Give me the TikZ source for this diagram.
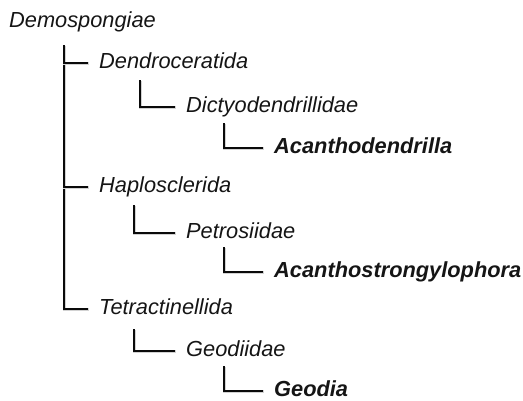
\documentclass[tikz,border=0pt]{standalone}
\usepackage{fontspec}
\setmainfont{Liberation Sans}
\usetikzlibrary{positioning,calc}
\definecolor{cText}{HTML}{151515}
\definecolor{cLine}{HTML}{0A0A0A}
\definecolor{cShade}{HTML}{D2D2D2}
\tikzset{
  taxon/.style={anchor=west, inner sep=0pt, text height=16pt, text depth=4.5pt,
    text=cText, font=\fontsize{21.8}{26}\selectfont\itshape},
  genus/.style={taxon, font=\fontsize{21.8}{26}\selectfont\bfseries\itshape},
  branch/.style={draw=cLine, line width=2.7pt, shorten >=11pt,
    preaction={draw=cShade, line width=2.9pt, transform canvas={shift={(0.6pt,-0.9pt)}}}},
}
\begin{document}
\begin{tikzpicture}[x=1pt, y=-1pt]
    \useasboundingbox (0,0) rectangle (523,400);
    \node[taxon] (demo)    at (9,22)   {Demospongiae};
    \node[taxon] (dendro)  at (99,63)  {Dendroceratida};
    \node[taxon] (dictyo)  at (186,107) {Dictyodendrillidae};
    \node[genus] (acantho) at (274,148) {Acanthodendrilla};
    \node[taxon] (haplo)   at (99,187) {Haplosclerida};
    \node[taxon] (petro)   at (186,233) {Petrosiidae};
    \node[genus] (acanstr) at (274,272) {Acanthostrongylophora};
    \node[taxon] (tetra)   at (99,309) {Tetractinellida};
    \node[taxon] (geodi)   at (186,351) {Geodiidae};
    \node[genus] (geodia)  at (274,391) {Geodia};
    \draw[branch] ([xshift=55pt,yshift=-13pt]demo.south west) |- (tetra.west);
    \draw[branch] ([xshift=55pt,yshift=-13pt]demo.south west) |- (haplo.west);
    \draw[branch] ([xshift=55pt,yshift=-13pt]demo.south west) |- (dendro.west);
    \draw[branch] ([xshift=41pt,yshift=-7pt]dendro.south west) |- (dictyo.west);
    \draw[branch] ([xshift=38pt,yshift=-6pt]dictyo.south west) |- (acantho.west);
    \draw[branch] ([xshift=35pt,yshift=-8pt]haplo.south west) |- (petro.west);
    \draw[branch] ([xshift=38pt,yshift=-4pt]petro.south west) |- (acanstr.west);
    \draw[branch] ([xshift=35pt,yshift=-10pt]tetra.south west) |- (geodi.west);
    \draw[branch] ([xshift=38pt,yshift=-5pt]geodi.south west) |- (geodia.west);
\end{tikzpicture}
\end{document}
